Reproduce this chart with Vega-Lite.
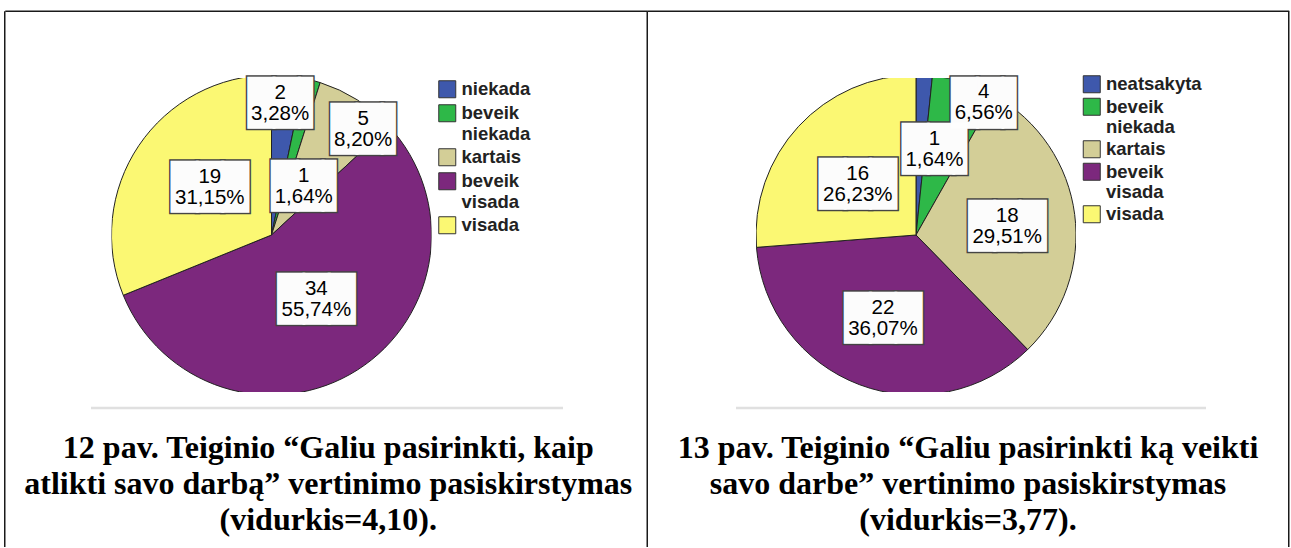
{
  "$schema": "https://vega.github.io/schema/vega-lite/v6.json",
  "background": "white",
  "padding": {"left": 3.5, "top": 10, "right": 1, "bottom": 0},
  "bounds": "flush",
  "spacing": 324.5,
  "resolve": {
    "scale": {"color": "independent", "theta": "independent", "x": "independent", "y": "independent"},
    "legend": {"color": "independent"}
  },
  "config": {
    "view": {"stroke": null},
    "axis": {"ticks": false, "labels": false, "grid": false, "domain": true, "domainColor": "#1a1a1a", "domainWidth": 1.5, "minExtent": 0, "maxExtent": 0}
  },
  "hconcat": [
    {
      "width": 320,
      "height": 314,
      "data": {"values": [
        {"cat": "niekada", "o": 1, "n": 2, "lab": "2\n3,28%"},
        {"cat": "beveik niekada", "o": 2, "n": 1, "lab": "1\n1,64%"},
        {"cat": "kartais", "o": 3, "n": 5, "lab": "5\n8,20%"},
        {"cat": "beveik visada", "o": 4, "n": 34, "lab": "34\n55,74%"},
        {"cat": "visada", "o": 5, "n": 19, "lab": "19\n31,15%"}
      ]},
      "title": {
        "text": ["12 pav. Teiginio “Galiu pasirinkti, kaip", "atlikti savo darbą” vertinimo pasiskirstymas", "(vidurkis=4,10)."],
        "orient": "bottom", "frame": "bounds", "anchor": "middle", "offset": -113.5, "baseline": "top",
        "font": "Liberation Serif", "fontSize": 32, "fontWeight": "bold", "lineHeight": 36, "color": "black", "dx": 2.5
      },
      "layer": [
        {
          "mark": {"type": "point", "opacity": 0},
          "encoding": {
            "x": {"field": "n", "type": "quantitative", "title": null,
                  "scale": {"domain": [0, 1000], "range": [0, 642.5], "nice": false, "zero": false},
                  "axis": {"orient": "top", "offset": 67.25, "position": -106.75, "title": null}},
            "y": {"field": "n", "type": "quantitative", "title": null,
                  "scale": {"domain": [0, 1000], "range": [0, 535.75], "nice": false, "zero": false},
                  "axis": {"orient": "left", "offset": 107.25, "position": -67.25, "title": null}}
          }
        },
        {
          "mark": {"type": "point", "opacity": 0},
          "encoding": {
            "x": {"field": "o", "type": "quantitative", "title": null,
                  "scale": {"domain": [0, 1000], "range": [0, 472], "nice": false, "zero": false},
                  "axis": {"orient": "bottom", "offset": 15.5, "position": -21, "title": null, "domainColor": "#e0e0e0", "domainWidth": 2.5}},
            "y": {"field": "n", "type": "quantitative", "title": null,
                  "axis": {"orient": "right", "offset": 215.25, "position": -67.25, "title": null}}
          }
        },
        {
          "mark": {"type": "arc", "outerRadius": 160, "stroke": "#222", "strokeWidth": 1, "clip": true},
          "encoding": {
            "theta": {"field": "n", "type": "quantitative", "stack": true},
            "order": {"field": "o", "type": "quantitative"},
            "color": {"field": "cat", "type": "nominal",
              "scale": {"domain": ["niekada", "beveik niekada", "kartais", "beveik visada", "visada"],
                        "range": ["#3E58AC", "#2EB848", "#D3CE97", "#7C287D", "#FBF873"]},
              "legend": {"title": null, "orient": "none", "legendX": 326.5, "legendY": 2, "padding": 0,
                "symbolType": "square", "symbolSize": 289, "symbolStrokeColor": "#333", "symbolStrokeWidth": 1,
                "labelFont": "Liberation Sans", "labelFontSize": 18.5, "labelFontWeight": "bold", "labelColor": "#222",
                "labelExpr": "split(datum.label, ' ')", "labelLimit": 300, "labelOffset": 5, "rowPadding": 2}}
          }
        },
        {
          "mark": {"type": "text", "font": "DejaVu Sans Mono", "fontSize": 42.1, "align": "left", "baseline": "alphabetic",
                   "fill": "#444", "stroke": "#444", "strokeWidth": 5, "opacity": 0.99,
                   "radius": {"expr": "datum.cat==='niekada'?133:datum.cat==='beveik niekada'?56:datum.cat==='kartais'?139:78"},
                   "dx": {"expr": "(datum.cat==='niekada'?-5:datum.cat==='beveik niekada'?18:datum.cat==='kartais'?17:3)-(datum.n>=10?38:31.7)"},
                   "dy": {"expr": "(datum.cat==='beveik niekada'?5:datum.cat==='kartais'?11:datum.cat==='visada'?-5:datum.cat==='beveik visada'?-2:0)+14.6"}},
          "encoding": {
            "theta": {"field": "n", "type": "quantitative", "stack": true},
            "order": {"field": "o", "type": "quantitative"},
            "text": {"condition": {"test": "datum.n>=10", "value": "███"}, "value": "██▌"}
          }
        },
        {
          "mark": {"type": "text", "font": "DejaVu Sans Mono", "fontSize": 42.1, "align": "left", "baseline": "alphabetic",
                   "fill": "white", "stroke": "white", "strokeWidth": 2, "opacity": 0.99,
                   "radius": {"expr": "datum.cat==='niekada'?133:datum.cat==='beveik niekada'?56:datum.cat==='kartais'?139:78"},
                   "dx": {"expr": "(datum.cat==='niekada'?-5:datum.cat==='beveik niekada'?18:datum.cat==='kartais'?17:3)-(datum.n>=10?38:31.7)"},
                   "dy": {"expr": "(datum.cat==='beveik niekada'?5:datum.cat==='kartais'?11:datum.cat==='visada'?-5:datum.cat==='beveik visada'?-2:0)+14.6"}},
          "encoding": {
            "theta": {"field": "n", "type": "quantitative", "stack": true},
            "order": {"field": "o", "type": "quantitative"},
            "text": {"condition": {"test": "datum.n>=10", "value": "███"}, "value": "██▌"}
          }
        },
        {
          "mark": {"type": "text", "font": "Liberation Sans", "fontSize": 20.5, "lineHeight": 21, "lineBreak": "\n",
                   "align": "center", "baseline": "middle", "color": "black",
                   "radius": {"expr": "datum.cat==='niekada'?133:datum.cat==='beveik niekada'?56:datum.cat==='kartais'?139:78"},
                   "dx": {"expr": "datum.cat==='niekada'?-5:datum.cat==='beveik niekada'?18:datum.cat==='kartais'?17:3"},
                   "dy": {"expr": "(datum.cat==='beveik niekada'?5:datum.cat==='kartais'?11:datum.cat==='visada'?-5:datum.cat==='beveik visada'?-2:0)-9.5"}},
          "encoding": {
            "theta": {"field": "n", "type": "quantitative", "stack": true},
            "order": {"field": "o", "type": "quantitative"},
            "text": {"field": "lab", "type": "nominal"}
          }
        }
      ],
      "resolve": {"scale": {"x": "independent"}, "axis": {"x": "independent", "y": "independent"}}
    },
    {
      "width": 320,
      "height": 314,
      "data": {"values": [
        {"cat": "neatsakyta", "o": 1, "n": 1, "lab": "1\n1,64%"},
        {"cat": "beveik niekada", "o": 2, "n": 4, "lab": "4\n6,56%"},
        {"cat": "kartais", "o": 3, "n": 18, "lab": "18\n29,51%"},
        {"cat": "beveik visada", "o": 4, "n": 22, "lab": "22\n36,07%"},
        {"cat": "visada", "o": 5, "n": 16, "lab": "16\n26,23%"}
      ]},
      "title": {
        "text": ["13 pav. Teiginio “Galiu pasirinkti ką veikti", "savo darbe” vertinimo pasiskirstymas", "(vidurkis=3,77)."],
        "orient": "bottom", "frame": "bounds", "anchor": "middle", "offset": -113.5, "baseline": "top",
        "font": "Liberation Serif", "fontSize": 32, "fontWeight": "bold", "lineHeight": 36, "color": "black"
      },
      "layer": [
        {
          "mark": {"type": "point", "opacity": 0},
          "encoding": {
            "x": {"field": "n", "type": "quantitative", "title": null,
                  "scale": {"domain": [0, 1000], "range": [0, 641.5], "nice": false, "zero": false},
                  "axis": {"orient": "top", "offset": 67.25, "position": -108.75, "title": null}},
            "y": {"field": "n", "type": "quantitative", "title": null,
                  "scale": {"domain": [0, 1000], "range": [0, 535.75], "nice": false, "zero": false},
                  "axis": {"orient": "right", "offset": 212.25, "position": -67.25, "title": null}}
          }
        },
        {
          "mark": {"type": "point", "opacity": 0},
          "encoding": {
            "x": {"field": "o", "type": "quantitative", "title": null,
                  "scale": {"domain": [0, 1000], "range": [0, 470], "nice": false, "zero": false},
                  "axis": {"orient": "bottom", "offset": 15.5, "position": -20.5, "title": null, "domainColor": "#e0e0e0", "domainWidth": 2.5}}
          }
        },
        {
          "mark": {"type": "arc", "outerRadius": 160, "stroke": "#222", "strokeWidth": 1, "clip": true},
          "encoding": {
            "theta": {"field": "n", "type": "quantitative", "stack": true},
            "order": {"field": "o", "type": "quantitative"},
            "color": {"field": "cat", "type": "nominal",
              "scale": {"domain": ["neatsakyta", "beveik niekada", "kartais", "beveik visada", "visada"],
                        "range": ["#3E58AC", "#2EB848", "#D3CE97", "#7C287D", "#FBF873"]},
              "legend": {"title": null, "orient": "none", "legendX": 326.5, "legendY": -3, "padding": 0,
                "symbolType": "square", "symbolSize": 289, "symbolStrokeColor": "#333", "symbolStrokeWidth": 1,
                "labelFont": "Liberation Sans", "labelFontSize": 18.5, "labelFontWeight": "bold", "labelColor": "#222",
                "labelExpr": "split(datum.label, ' ')", "labelLimit": 300, "labelOffset": 5, "rowPadding": 0.5}}
          }
        },
        {
          "mark": {"type": "text", "font": "DejaVu Sans Mono", "fontSize": 42.1, "align": "left", "baseline": "alphabetic",
                   "fill": "#444", "stroke": "#444", "strokeWidth": 5, "opacity": 0.99,
                   "radius": {"expr": "datum.cat==='neatsakyta'?88:datum.cat==='beveik niekada'?147:datum.cat==='kartais'?92:datum.cat==='beveik visada'?88:78"},
                   "dx": {"expr": "(datum.cat==='neatsakyta'?14:datum.cat==='beveik niekada'?23:datum.cat==='beveik visada'?-2:datum.cat==='visada'?-1:0)-(datum.n>=10?38:31.7)"},
                   "dy": {"expr": "(datum.cat==='neatsakyta'?1:datum.cat==='beveik niekada'?7:datum.cat==='kartais'?2:datum.cat==='visada'?1:0)+14.6"}},
          "encoding": {
            "theta": {"field": "n", "type": "quantitative", "stack": true},
            "order": {"field": "o", "type": "quantitative"},
            "text": {"condition": {"test": "datum.n>=10", "value": "███"}, "value": "██▌"}
          }
        },
        {
          "mark": {"type": "text", "font": "DejaVu Sans Mono", "fontSize": 42.1, "align": "left", "baseline": "alphabetic",
                   "fill": "white", "stroke": "white", "strokeWidth": 2, "opacity": 0.99,
                   "radius": {"expr": "datum.cat==='neatsakyta'?88:datum.cat==='beveik niekada'?147:datum.cat==='kartais'?92:datum.cat==='beveik visada'?88:78"},
                   "dx": {"expr": "(datum.cat==='neatsakyta'?14:datum.cat==='beveik niekada'?23:datum.cat==='beveik visada'?-2:datum.cat==='visada'?-1:0)-(datum.n>=10?38:31.7)"},
                   "dy": {"expr": "(datum.cat==='neatsakyta'?1:datum.cat==='beveik niekada'?7:datum.cat==='kartais'?2:datum.cat==='visada'?1:0)+14.6"}},
          "encoding": {
            "theta": {"field": "n", "type": "quantitative", "stack": true},
            "order": {"field": "o", "type": "quantitative"},
            "text": {"condition": {"test": "datum.n>=10", "value": "███"}, "value": "██▌"}
          }
        },
        {
          "mark": {"type": "text", "font": "Liberation Sans", "fontSize": 20.5, "lineHeight": 21, "lineBreak": "\n",
                   "align": "center", "baseline": "middle", "color": "black",
                   "radius": {"expr": "datum.cat==='neatsakyta'?88:datum.cat==='beveik niekada'?147:datum.cat==='kartais'?92:datum.cat==='beveik visada'?88:78"},
                   "dx": {"expr": "datum.cat==='neatsakyta'?14:datum.cat==='beveik niekada'?23:datum.cat==='beveik visada'?-2:datum.cat==='visada'?-1:0"},
                   "dy": {"expr": "(datum.cat==='neatsakyta'?1:datum.cat==='beveik niekada'?7:datum.cat==='kartais'?2:datum.cat==='visada'?1:0)-9.5"}},
          "encoding": {
            "theta": {"field": "n", "type": "quantitative", "stack": true},
            "order": {"field": "o", "type": "quantitative"},
            "text": {"field": "lab", "type": "nominal"}
          }
        }
      ],
      "resolve": {"scale": {"x": "independent"}, "axis": {"x": "independent"}}
    }
  ]
}
